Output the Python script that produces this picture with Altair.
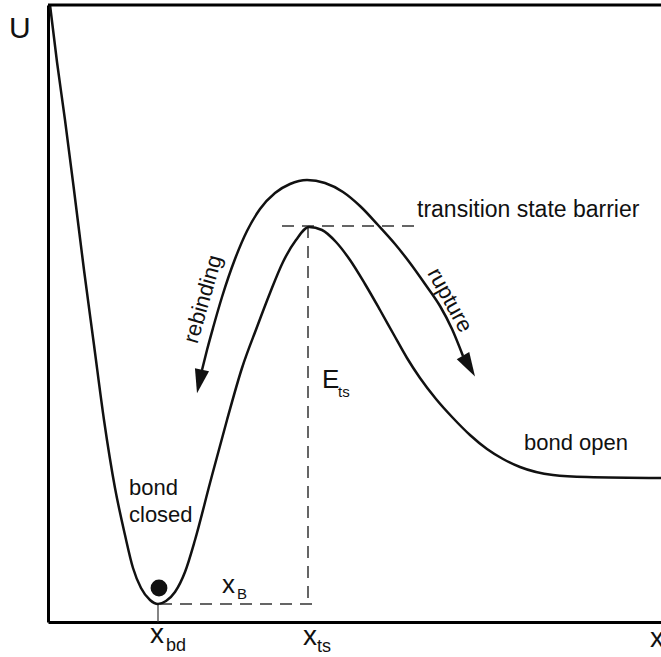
import altair as alt
import pandas as pd

# ---- potential energy curve U(x) (diagram units) ----
curve_x = [2, 9, 17, 26, 36, 46, 56, 67, 77, 85, 93, 102, 110, 118, 127, 137, 147, 162, 179,
           194, 209, 222, 235, 248, 261, 274, 288, 302, 317, 332, 346, 359, 372, 388, 405, 422,
           439, 455, 472, 505, 539, 613]
curve_u = [617, 560, 502, 432, 352, 277, 202, 134, 87, 54, 34, 22, 18, 21, 30, 50, 82, 139, 202,
           254, 295, 329, 360, 382, 395, 392, 380, 362, 338, 312, 287, 264, 244, 223, 204, 187,
           173, 163, 155, 147, 145, 144]

# ---- rebinding / rupture arc ----
arc_x = [154, 159, 165, 174, 187, 199, 212, 227, 242, 259, 277, 295, 312, 330, 347, 362, 377,
         392, 404, 415]
arc_u = [252, 272, 294, 325, 363, 391, 413, 429, 438, 442, 439, 430, 416, 397, 378, 359, 338,
         316, 293, 266]

# arrow heads
head_x = [151.5, 421]
head_u = [240.5, 256]
head_angle = [12, 330]

# ball in the well
ball_x = [111]
ball_u = [34]

# dashed guide lines
dash_x = [234, 260, 112]
dash_x2 = [369, 260, 272]
dash_u = [396, 396, 18]
dash_u2 = [396, 18, 18]

# tick under the minimum
tick_x = [110]
tick_u = [0]
tick_u2 = [18]

# frame limits
x_max = 613
u_max = 617

# ---- labels ----
label_text = ["transition state barrier", "bond open", "bond", "closed",
              "E", "ts", "x", "B", "U",
              "x", "bd", "x", "ts", "x"]
label_x = [369, 476, 81, 81, 274, 290, 174, 189, -39, 102, 118, 255, 269, 602]
label_u = [405, 172, 127, 100, 234, 225, 29, 23, 584, -21, -29, -23, -30, -25]
label_size = [23, 22, 22, 22, 26, 15, 26, 15, 30, 28, 18, 28, 18, 28]

rot_text = ["rebinding", "rupture"]
rot_x = [155, 402]
rot_u = [323, 322]
rot_angle = [286, 61]

FONT = "Liberation Sans"
INK = "#111111"

xs = alt.Scale(domain=[0, x_max], nice=False, zero=False)
ys = alt.Scale(domain=[0, u_max], nice=False, zero=False)

curve_df = pd.DataFrame({"x": curve_x, "U": curve_u})
arc_df = pd.DataFrame({"x": arc_x, "U": arc_u})
head_df = pd.DataFrame({"x": head_x, "U": head_u, "a": head_angle})
ball_df = pd.DataFrame({"x": ball_x, "U": ball_u})
dash_df = pd.DataFrame({"x": dash_x, "x2": dash_x2, "U": dash_u, "U2": dash_u2})
tick_df = pd.DataFrame({"x": tick_x, "U": tick_u, "U2": tick_u2})
lab_df = pd.DataFrame({"t": label_text, "x": label_x, "U": label_u, "s": label_size})
rot_df = pd.DataFrame({"t": rot_text, "x": rot_x, "U": rot_u, "a": rot_angle})

curve = alt.Chart(curve_df).mark_line(interpolate="monotone", color=INK, strokeWidth=2.5).encode(
    x=alt.X("x:Q", scale=xs, title=None),
    y=alt.Y("U:Q", scale=ys, title=None),
)

arc = alt.Chart(arc_df).mark_line(interpolate="monotone", color=INK, strokeWidth=2.5).encode(
    x=alt.X("x:Q", scale=xs, title=None),
    y=alt.Y("U:Q", scale=ys, title=None),
)

heads = alt.Chart(head_df).mark_point(
    shape="M-0.6,-1L0.6,-1L0,1Z", filled=True, color=INK, opacity=1, size=576
).encode(
    x=alt.X("x:Q", scale=xs, title=None),
    y=alt.Y("U:Q", scale=ys, title=None),
    angle=alt.Angle("a:Q", scale=None),
)

ball = alt.Chart(ball_df).mark_point(shape="circle", filled=True, color=INK, opacity=1, size=283).encode(
    x=alt.X("x:Q", scale=xs, title=None),
    y=alt.Y("U:Q", scale=ys, title=None),
)

dashes = alt.Chart(dash_df).mark_rule(color="#333333", strokeWidth=1.5, strokeDash=[12, 8]).encode(
    x=alt.X("x:Q", scale=xs, title=None),
    x2="x2:Q",
    y=alt.Y("U:Q", scale=ys, title=None),
    y2="U2:Q",
)

tick = alt.Chart(tick_df).mark_rule(color="#333333", strokeWidth=1.2).encode(
    x=alt.X("x:Q", scale=xs, title=None),
    y=alt.Y("U:Q", scale=ys, title=None),
    y2="U2:Q",
)

top = alt.Chart(pd.DataFrame({"x": [0], "x2": [x_max], "U": [u_max]})).mark_rule(
    color="black", strokeWidth=3
).encode(
    x=alt.X("x:Q", scale=xs, title=None),
    x2="x2:Q",
    y=alt.Y("U:Q", scale=ys, title=None),
)

labels = alt.Chart(lab_df).mark_text(
    font=FONT, color=INK, align="left", baseline="alphabetic"
).encode(
    x=alt.X("x:Q", scale=xs, title=None),
    y=alt.Y("U:Q", scale=ys, title=None),
    text="t:N",
    size=alt.Size("s:Q", scale=None),
)

rot = alt.Chart(rot_df).mark_text(
    font=FONT, color=INK, align="center", baseline="middle", fontSize=22
).encode(
    x=alt.X("x:Q", scale=xs, title=None),
    y=alt.Y("U:Q", scale=ys, title=None),
    text="t:N",
    angle=alt.Angle("a:Q", scale=None),
)

chart = alt.layer(dashes, tick, curve, arc, heads, ball, labels, rot, top).properties(
    width=613,
    height=617,
    padding={"left": 48, "top": 5, "right": 0, "bottom": 35},
    autosize="none",
    background="white",
).configure_view(stroke=None).configure_axis(
    labels=False, ticks=False, grid=False, domainWidth=3, domainColor="black"
)

chart.save("out.html", embed_options={"renderer": "svg", "actions": False})
